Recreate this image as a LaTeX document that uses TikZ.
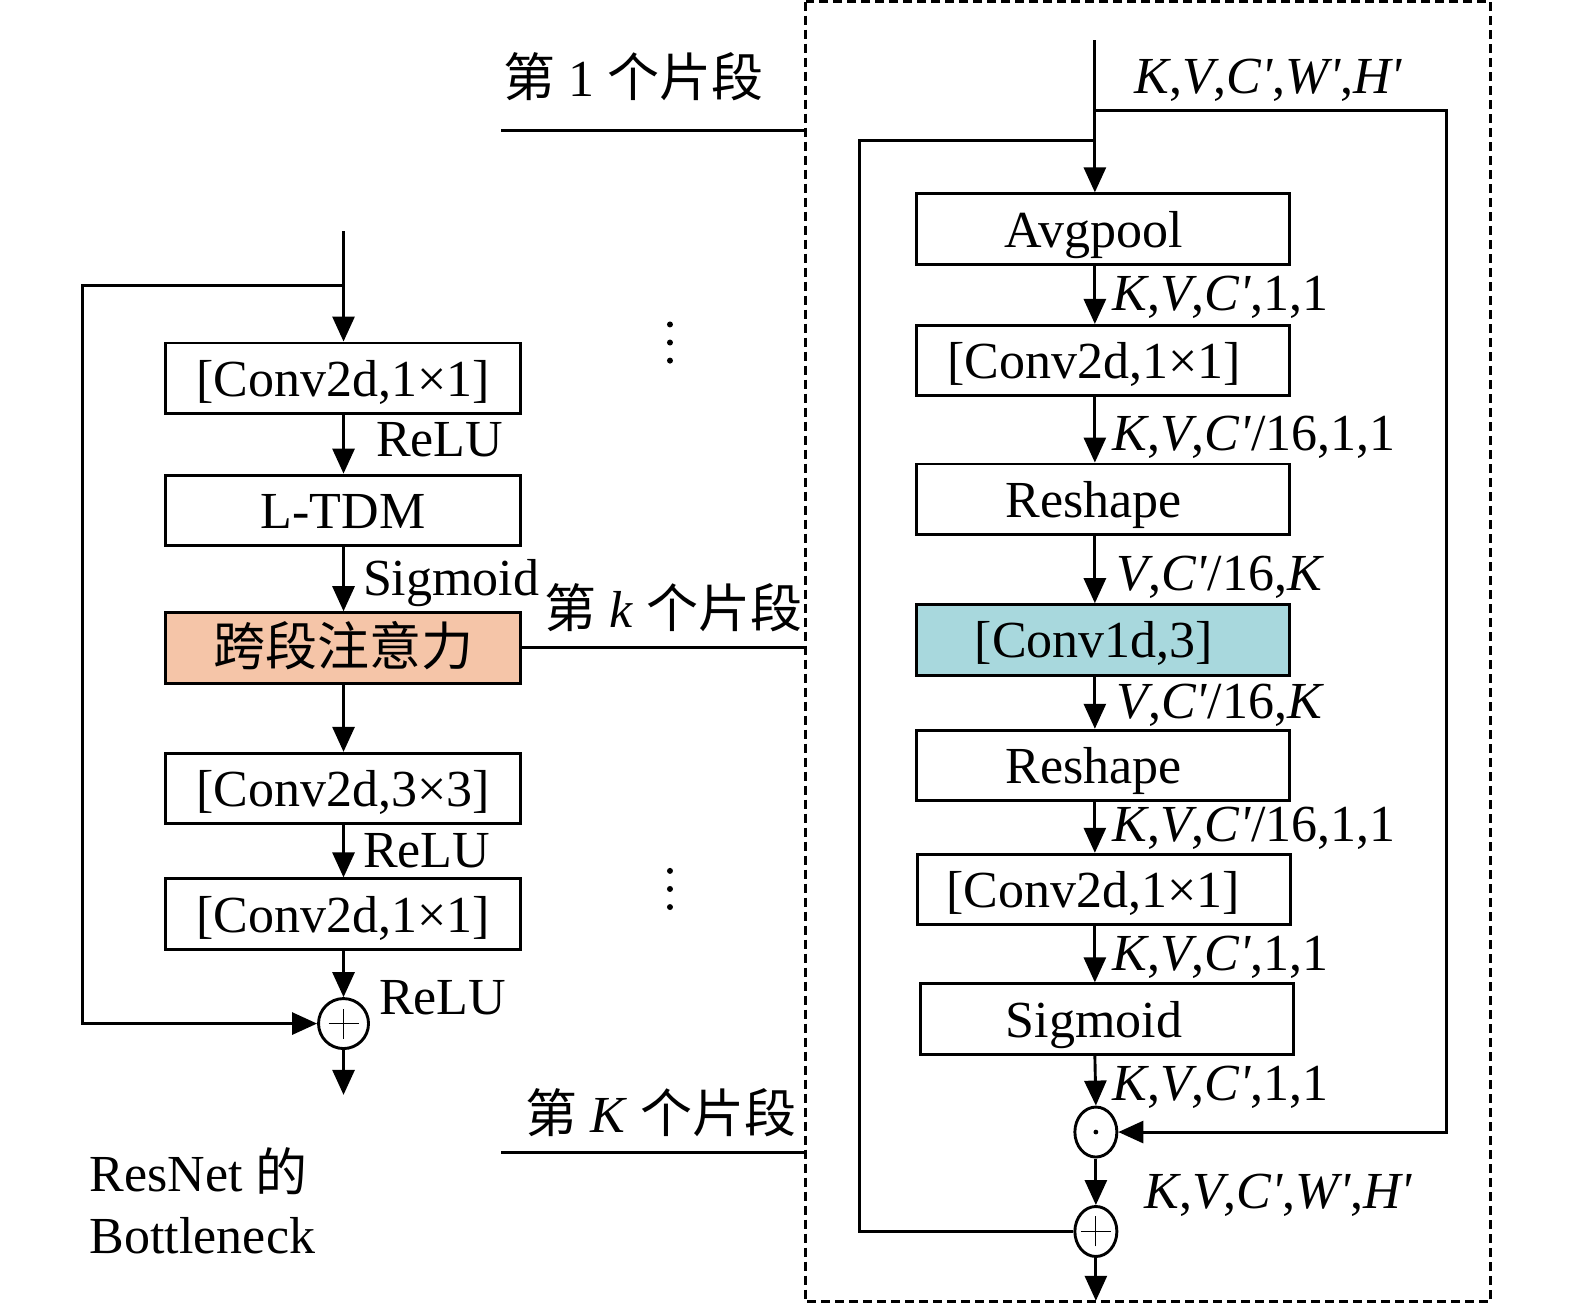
\documentclass[tikz,border=0pt]{standalone}
\usepackage{fontspec}
\setmainfont{Liberation Serif}
\newfontfamily\cjk{Noto Sans CJK SC}
\usetikzlibrary{arrows.meta,shapes.geometric}
\definecolor{salmonbox}{RGB}{245,197,168}
\definecolor{cyanbox}{RGB}{168,216,221}
\newcommand{\Kv}{\textit{K}}
\newcommand{\Vv}{\textit{V}}
\newcommand{\Cp}{\textit{C\textquotesingle}}
\newcommand{\Wp}{\textit{W\textquotesingle}}
\newcommand{\Hp}{\textit{H\textquotesingle}}
\begin{document}
\begin{tikzpicture}[x=0.50223pt,y=-0.50223pt,
  font=\fontsize{26}{30}\selectfont, line width=1.45pt,
  arr/.style={-{Triangle[length=12.5pt,width=11pt]}},
  lbox/.style={draw, minimum width=177.3pt, minimum height=35.2pt, inner sep=0pt, text height=21pt, text depth=3pt},
  rbox/.style={lbox, minimum width=186.8pt},
  lab/.style={anchor=west, inner sep=0pt, text height=21pt, text depth=3pt},
  plusmark/.style={path picture={
      \draw[line width=0.6pt] ([xshift=-7.5pt]path picture bounding box.center) -- ([xshift=7.5pt]path picture bounding box.center);
      \draw[line width=0.6pt] ([yshift=-7.5pt]path picture bounding box.center) -- ([yshift=7.5pt]path picture bounding box.center);}},
  dotmark/.style={path picture={\fill (path picture bounding box.center) circle (1.2pt);}},
  lcirc/.style={draw, circle, minimum size=25pt, inner sep=0pt},
  rcirc/.style={draw, ellipse, minimum width=21pt, minimum height=25pt, inner sep=0pt}
]
\useasboundingbox (0,0) rectangle (1568,1299);

% ---------------- left column ----------------
\node[lbox] (b1) at (341.5,376.5) {[Conv2d,1×1]};
\node[lbox] (b2) at (341.5,508) {L-TDM};
\node[lbox, fill=salmonbox] (b3) at (341.5,645) {\cjk 跨段注意力};
\node[lbox] (b4) at (341.5,785) {[Conv2d,3×3]};
\node[lbox] (b5) at (341.5,910) {[Conv2d,1×1]};
\node[lcirc, plusmark] (lp) at (342,1019) {};

\coordinate (Lin) at (342,230);
\coordinate (Lsplit) at (342,284);
\coordinate (Lout) at (342,1090);

\draw[arr] (Lin) -- (b1.north -| Lin);
\draw[arr] (b1.south -| Lin) -- (b2.north -| Lin);
\draw[arr] (b2.south -| Lin) -- (b3.north -| Lin);
\draw[arr] (b3.south -| Lin) -- (b4.north -| Lin);
\draw[arr] (b4.south -| Lin) -- (b5.north -| Lin);
\draw[arr] (b5.south -| Lin) -- (lp.north);
\draw[arr] (lp.south) -- (Lout);
\draw[arr] (Lsplit) -- ++(-260,0) |- (lp.west);

\node[lab] (l1) at (373,437) {ReLU};
\node[lab] (l2) at (360,575) {Sigmoid};
\node[lab] (l3) at (360,846) {ReLU};
\node[lab] (l4) at (376,992) {ReLU};
\node[lab] (t1) at (88,1168) {ResNet {\cjk 的}};
\node[lab] (t2) at (88,1230) {Bottleneck};

% vertical ellipses (dots)
\foreach \yy in {323,341,359} {\fill (667,\yy) circle (1.5pt);}
\foreach \yy in {867,885,903} {\fill (667,\yy) circle (1.5pt);}

% ---------------- segment labels ----------------
\node[lab] (s1) at (500,78) {{\cjk 第} 1 {\cjk 个片段}};
\node[lab] (s2) at (541,607) {{\cjk 第} \textit{k} {\cjk 个片段}};
\node[lab] (s3) at (522,1110) {{\cjk 第} \textit{K} {\cjk 个片段}};

\coordinate (f1a) at (499,130);  \coordinate (f1b) at (802,130);
\coordinate (f2b) at (802,645);
\coordinate (f3a) at (499,1147); \coordinate (f3b) at (802,1147);
\draw (f1a) -- (f1b);
\draw (b3.east) -- (f2b);
\draw (f3a) -- (f3b);

\draw[dash pattern=on 4.5pt off 2.5pt] (802,1.5) rectangle (1484,1296);

% ---------------- right column ----------------
\node[rbox] (r1) at (1098,228) {\hspace{-9pt}Avgpool};
\node[rbox] (r2) at (1098,359) {\hspace{-9pt}[Conv2d,1×1]};
\node[rbox] (r3) at (1098,497) {\hspace{-9pt}Reshape};
\node[rbox, fill=cyanbox] (r4) at (1098,637) {\hspace{-9pt}[Conv1d,3]};
\node[rbox] (r5) at (1098,762) {\hspace{-9pt}Reshape};
\node[rbox] (r6) at (1099,885.5) {\hspace{-11pt}[Conv2d,1×1]};
\node[rbox] (r7) at (1102,1014.5) {\hspace{-13pt}Sigmoid};
\node[rcirc, dotmark] (rd) at (1091,1127) {};
\node[rcirc, plusmark] (rp) at (1091,1226) {};

\coordinate (Rin) at (1090,40);
\coordinate (Rs1) at (1090,110);
\coordinate (Rs2) at (1090,140);
\coordinate (Rout) at (1091,1295);

\draw[arr] (Rin) -- (r1.north -| Rin);
\draw[arr] (r1.south -| Rin) -- (r2.north -| Rin);
\draw[arr] (r2.south -| Rin) -- (r3.north -| Rin);
\draw[arr] (r3.south -| Rin) -- (r4.north -| Rin);
\draw[arr] (r4.south -| Rin) -- (r5.north -| Rin);
\draw[arr] (r5.south -| Rin) -- (r6.north -| Rin);
\draw[arr] (r6.south -| Rin) -- (r7.north -| Rin);
\draw[arr] (r7.south -| Rin) -- (rd.north);
\draw[arr] (rd.south) -- (rp.north);
\draw[arr] (rp.south) -- (Rout);
\draw[arr] (Rs1) -- ++(350,0) |- (rd.east);
\draw (Rs2) -- ++(-234,0) |- (rp.west);

\node[lab] (q0) at (1128,75) {\Kv,\Vv,\Cp,\Wp,\Hp};
\node[lab] (q1) at (1106,291) {\Kv,\Vv,\Cp,1,1};
\node[lab] (q2) at (1106,431) {\Kv,\Vv,\Cp/16,1,1};
\node[lab] (q3) at (1110,570) {\Vv,\Cp/16,\Kv};
\node[lab] (q4) at (1110,697) {\Vv,\Cp/16,\Kv};
\node[lab] (q5) at (1106,820) {\Kv,\Vv,\Cp/16,1,1};
\node[lab] (q6) at (1106,948) {\Kv,\Vv,\Cp,1,1};
\node[lab] (q7) at (1106,1078) {\Kv,\Vv,\Cp,1,1};
\node[lab] (q8) at (1138,1185) {\Kv,\Vv,\Cp,\Wp,\Hp};
\end{tikzpicture}
\end{document}
